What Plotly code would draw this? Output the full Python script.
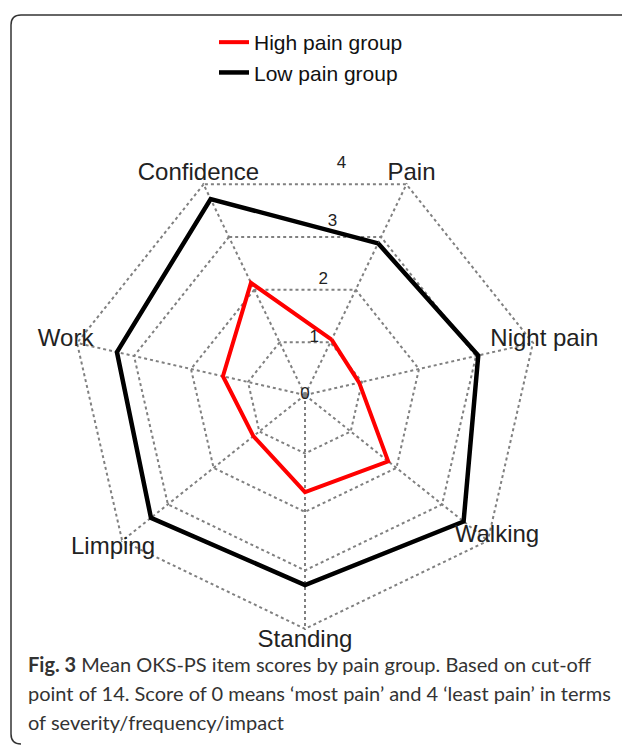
import plotly.graph_objects as go

categories = ["Pain", "Night pain", "Walking", "Standing", "Limping", "Work", "Confidence"]
high_pain = [1.05, 0.95, 1.82, 1.66, 1.13, 1.44, 2.13]
low_pain = [2.88, 3.04, 3.47, 3.25, 3.37, 3.30, 3.72]
radial_ticks = [0, 1, 2, 3, 4]
caption_lines = [
    "<b>Fig. 3</b> Mean OKS-PS item scores by pain group. Based on cut-off",
    "point of 14. Score of 0 means ‘most pain’ and 4 ‘least pain’ in terms",
    "of severity/frequency/impact",
]

W, H = 622, 746
RMAX = 4.02
LABEL_R = 4.2
LABEL_RMAX = 4.5
label_positions = ["middle center", "middle center", "top center", "middle center",
                   "middle center", "middle center", "middle center"]

def close(v):
    return list(v) + [v[0]]

fig = go.Figure()
fig.add_trace(go.Scatterpolar(r=close(high_pain), theta=close(categories), mode="lines",
                              name="High pain group", line=dict(color="#ff0000", width=4)))
fig.add_trace(go.Scatterpolar(r=close(low_pain), theta=close(categories), mode="lines",
                              name="Low pain group", line=dict(color="#000000", width=4.5)))
# radial tick labels drawn along a 81-degree line on an overlaid polar subplot
fig.add_trace(go.Scatterpolar(r=radial_ticks, theta=[81] * len(radial_ticks), mode="text",
                              text=[str(t) for t in radial_ticks], subplot="polar2",
                              textfont=dict(size=17, color="#222", family="Liberation Sans, Arial, sans-serif"),
                              showlegend=False, hoverinfo="skip"))
# category labels just outside the outer ring, on a larger overlaid polar with the same scale
fig.add_trace(go.Scatterpolar(r=[LABEL_R] * len(categories), theta=categories, mode="text",
                              text=categories, textposition=label_positions, subplot="polar3",
                              textfont=dict(size=24, color="#222", family="Liberation Sans, Arial, sans-serif"),
                              showlegend=False, hoverinfo="skip"))

cx, cy, R = 305, 395, 235

def domain(rad):
    return dict(x=[(cx - rad) / W, (cx + rad) / W], y=[1 - (cy + rad) / H, 1 - (cy - rad) / H])

ang_common = dict(rotation=90 - 180 / 7, direction="clockwise")
fig.update_layout(
    width=W, height=H,
    margin=dict(l=0, r=0, t=0, b=0),
    paper_bgcolor="white",
    font=dict(family="Liberation Sans, Arial, sans-serif", color="#222"),
    polar=dict(
        domain=domain(R),
        bgcolor="rgba(0,0,0,0)",
        gridshape="linear",
        radialaxis=dict(range=[0, RMAX], tickvals=radial_ticks, showticklabels=False,
                        showline=False, ticks="",
                        gridcolor="#808080", griddash="dot", gridwidth=1.5),
        angularaxis=dict(**ang_common, showline=False, showticklabels=False,
                         gridcolor="#808080", griddash="dot", gridwidth=1.5, ticks=""),
    ),
    polar2=dict(
        domain=domain(R),
        bgcolor="rgba(0,0,0,0)",
        radialaxis=dict(range=[0, RMAX], visible=False),
        angularaxis=dict(visible=False, rotation=0, direction="counterclockwise"),
    ),
    polar3=dict(
        domain=domain(R * LABEL_RMAX / RMAX),
        bgcolor="rgba(0,0,0,0)",
        gridshape="linear",
        radialaxis=dict(range=[0, LABEL_RMAX], visible=False),
        angularaxis=dict(**ang_common, visible=False),
    ),
    legend=dict(x=214 / W, y=1 - 22 / H, xanchor="left", yanchor="top",
                font=dict(size=21, color="#111"), bgcolor="rgba(0,0,0,0)",
                tracegroupgap=0),
    showlegend=True,
)

# rounded border box (open to the right and bottom edges)
r = 10
xl = 11 / W
yt = 1 - 15 / H
yb = 1 - 744 / H
border = dict(color="#333", width=1.5)
fig.add_shape(type="line", xref="paper", yref="paper", x0=(11 + r) / W, x1=1.01, y0=yt, y1=yt, line=border)
fig.add_shape(type="line", xref="paper", yref="paper", x0=xl, x1=xl, y0=1 - (15 + r) / H, y1=1 - (744 - r) / H, line=border)
fig.add_shape(type="path", xref="paper", yref="paper",
              path=f"M {xl} {1-(15+r)/H} Q {xl} {yt} {(11+r)/W} {yt}", line=border)
fig.add_shape(type="path", xref="paper", yref="paper",
              path=f"M {xl} {1-(744-r)/H} Q {xl} {yb} {(11+r)/W} {yb}", line=border)

ys = [664, 693, 722]
for t, yy in zip(caption_lines, ys):
    fig.add_annotation(text=t, xref="paper", yref="paper", x=26 / W, y=1 - yy / H,
                       xanchor="left", yanchor="middle", showarrow=False,
                       font=dict(family="Lato, sans-serif", size=20, color="#333"))

fig.write_html("out.html", config={"displayModeBar": False},
               post_script="document.body.style.margin='0';")
